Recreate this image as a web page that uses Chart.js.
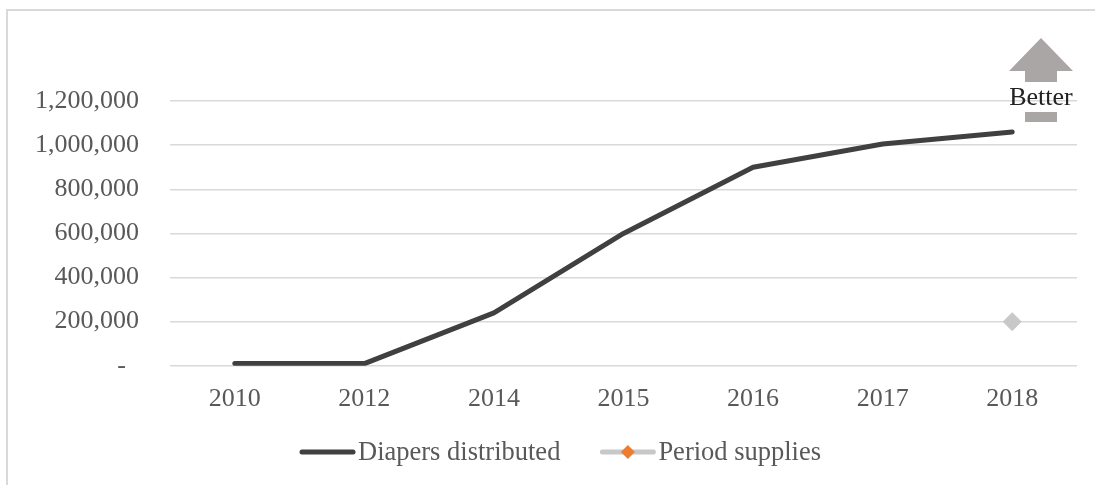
<!DOCTYPE html>
<html>
<head>
<meta charset="utf-8">
<script src="https://cdn.jsdelivr.net/npm/chart.js@4"></script>
<style>
  html, body { margin: 0; padding: 0; background: #ffffff; }
  #wrap { position: relative; width: 1095px; height: 485px; }
  canvas { display: block; }
</style>
</head>
<body>
<div id="wrap"><canvas id="chart" width="1095" height="485"></canvas></div>
<script>
// Category labels (years) and series values
const years = ['2010', '2012', '2014', '2015', '2016', '2017', '2018'];
const diapersDistributed = [10000, 10000, 240000, 600000, 900000, 1005000, 1060000];
const periodSupplies = [null, null, null, null, null, null, 200000];
const yTickValues = [0, 200000, 400000, 600000, 800000, 1000000, 1200000];

const FONT = '"Liberation Serif", "Times New Roman", serif';
const TEXT_GREY = '#595959';

// Light frame around the chart (top and left edges)
const framePlugin = {
  id: 'frame',
  beforeDraw(chart) {
    const ctx = chart.ctx;
    ctx.save();
    ctx.strokeStyle = '#d9d9d9';
    ctx.lineWidth = 2;
    ctx.beginPath();
    ctx.moveTo(7, chart.height);
    ctx.lineTo(7, 10);
    ctx.lineTo(chart.width, 10);
    ctx.stroke();
    ctx.restore();
  }
};

// "Better" arrow in the top-right corner of the plot
const betterArrowPlugin = {
  id: 'betterArrow',
  afterDraw(chart) {
    const ctx = chart.ctx;
    const a = chart.chartArea;
    const cx = a.right - 36;
    const top = a.top - 63;
    ctx.save();
    ctx.fillStyle = '#aaa6a6';
    // head
    ctx.beginPath();
    ctx.moveTo(cx, top);
    ctx.lineTo(cx + 32, top + 33);
    ctx.lineTo(cx - 32, top + 33);
    ctx.closePath();
    ctx.fill();
    // shaft pieces above and below the label
    ctx.fillRect(cx - 16, top + 33, 32, 11);
    ctx.fillRect(cx - 16, top + 74, 32, 10);
    ctx.fillStyle = '#222222';
    ctx.font = '26px ' + FONT;
    ctx.textAlign = 'center';
    ctx.textBaseline = 'middle';
    ctx.fillText('Better', cx, top + 60);
    ctx.restore();
  }
};

// Legend in the Excel style: a short line sample with optional marker, then the label
const lineLegendPlugin = {
  id: 'lineLegend',
  afterDraw(chart) {
    const ctx = chart.ctx;
    const sets = chart.data.datasets;
    const sampleW = 55, gapText = 3, gapItem = 40;
    ctx.save();
    ctx.font = '26.5px ' + FONT;
    ctx.textBaseline = 'middle';
    const widths = sets.map(ds => sampleW + gapText + ctx.measureText(ds.label).width);
    let x = 300;
    const y = 452;
    sets.forEach((ds, i) => {
      ctx.strokeStyle = ds.legendLine;
      ctx.lineWidth = 5;
      ctx.lineCap = 'round';
      ctx.beginPath();
      ctx.moveTo(x + 2, y);
      ctx.lineTo(x + sampleW - 2, y);
      ctx.stroke();
      if (ds.legendMarker) {
        const m = 7;
        const mx = x + sampleW / 2;
        ctx.fillStyle = ds.legendMarker;
        ctx.beginPath();
        ctx.moveTo(mx, y - m);
        ctx.lineTo(mx + m, y);
        ctx.lineTo(mx, y + m);
        ctx.lineTo(mx - m, y);
        ctx.closePath();
        ctx.fill();
      }
      ctx.fillStyle = TEXT_GREY;
      ctx.textAlign = 'left';
      ctx.fillText(ds.label, x + sampleW + gapText, y + 1);
      x += widths[i] + gapItem;
    });
    ctx.restore();
  }
};

new Chart(document.getElementById('chart'), {
  type: 'line',
  data: {
    labels: years,
    datasets: [
      {
        label: 'Diapers distributed',
        data: diapersDistributed,
        borderColor: '#404040',
        borderWidth: 5,
        borderCapStyle: 'round',
        borderJoinStyle: 'round',
        pointRadius: 0,
        tension: 0,
        legendLine: '#404040'
      },
      {
        label: 'Period supplies',
        data: periodSupplies,
        borderColor: '#c8c8c8',
        borderWidth: 5,
        pointStyle: 'rectRot',
        pointRadius: 9,
        pointBackgroundColor: '#c8c8c8',
        pointBorderColor: '#c8c8c8',
        pointBorderWidth: 1,
        legendLine: '#c8c8c8',
        legendMarker: '#ed7d31'
      }
    ]
  },
  options: {
    responsive: false,
    animation: false,
    devicePixelRatio: 1,
    layout: { padding: { left: 0, right: 18, top: 101, bottom: 52 } },
    plugins: {
      legend: { display: false },
      tooltip: { enabled: false }
    },
    scales: {
      x: {
        offset: true,
        grid: { display: false, drawTicks: false },
        border: { display: false },
        ticks: {
          color: TEXT_GREY,
          padding: 18,
          maxRotation: 0,
          font: { family: FONT, size: 26 }
        }
      },
      y: {
        min: 0,
        max: 1200000,
        afterFit(scale) { scale.width = 170; },
        afterBuildTicks(scale) { scale.ticks = yTickValues.map(v => ({ value: v })); },
        grid: { color: '#d9d9d9', lineWidth: 1.5, drawTicks: false },
        border: { display: false },
        ticks: {
          color: TEXT_GREY,
          padding: 31,
          font: { family: FONT, size: 26 },
          callback: v => (v === 0 ? '-  ' : v.toLocaleString('en-US'))
        }
      }
    }
  },
  plugins: [framePlugin, betterArrowPlugin, lineLegendPlugin]
});
</script>
</body>
</html>
